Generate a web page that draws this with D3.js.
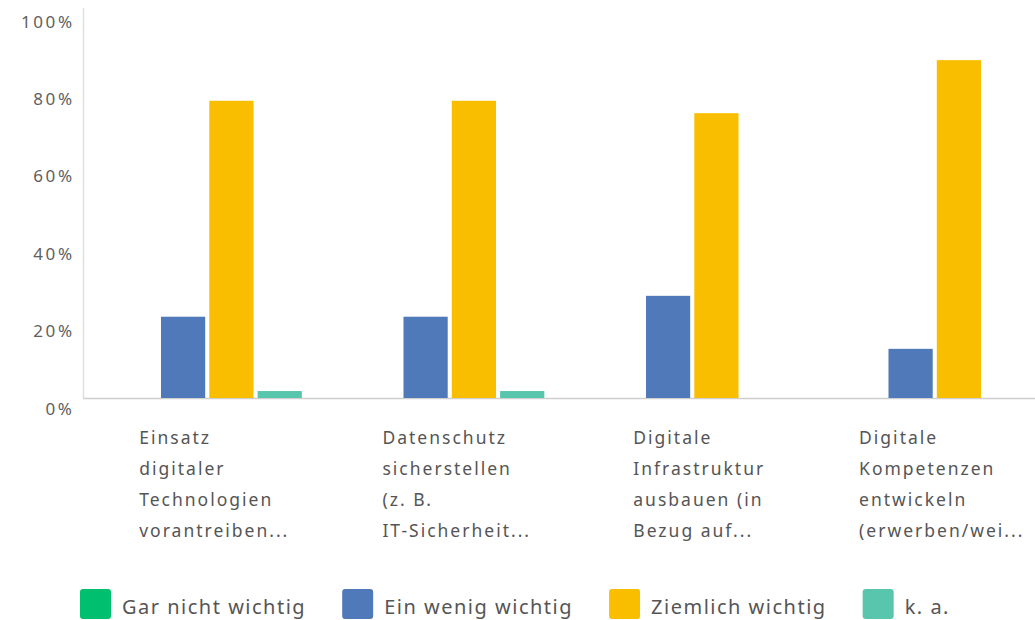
<!DOCTYPE html>
<html>
<head>
<meta charset="utf-8">
<script src="https://cdn.jsdelivr.net/npm/d3@7"></script>
<style>
  html, body { margin: 0; padding: 0; background: #fff; }
  svg { display: block; }
  text { font-family: "Noto Sans", "Open Sans", sans-serif; }
</style>
</head>
<body>
<svg id="chart" width="1035" height="620"></svg>
<script>
// ---- data ----
const categories = [
  ["Einsatz", "digitaler", "Technologien", "vorantreiben..."],
  ["Datenschutz", "sicherstellen", "(z. B.", "IT-Sicherheit..."],
  ["Digitale", "Infrastruktur", "ausbauen (in", "Bezug auf..."],
  ["Digitale", "Kompetenzen", "entwickeln", "(erwerben/wei..."]
];
const seriesNames = ["Gar nicht wichtig", "Ein wenig wichtig", "Ziemlich wichtig", "k. a."];
const garNichtWichtig = [0, 0, 0, 0];
const einWenigWichtig = [21.0, 21.0, 26.4, 12.7];
const ziemlichWichtig = [76.8, 76.8, 73.6, 87.3];
const keineAngabe = [1.8, 1.8, 0, 0];
const yTicks = [0, 20, 40, 60, 80, 100];
const seriesColors = ["#00bf6f", "#4f79b8", "#f9be00", "#58c5ad"];

const seriesValues = [garNichtWichtig, einWenigWichtig, ziemlichWichtig, keineAngabe];

// ---- layout ----
const svg = d3.select("#chart");
const baseY = 398, topY = 11;
const y = d3.scaleLinear().domain([0, 100]).range([baseY, topY]);
const x0 = d3.scaleBand().domain(d3.range(categories.length))
  .range([86, 1056]).paddingInner(0.22).paddingOuter(0.11);
const x1 = d3.scaleBand().domain(d3.range(seriesNames.length))
  .range([0, x0.bandwidth()]).paddingInner(0.085);

// y axis labels
const yAxis = d3.axisLeft(y).tickValues(yTicks).tickSize(0).tickPadding(0)
  .tickFormat(d => d + "%");
const yg = svg.append("g").attr("transform", "translate(72,0)").call(yAxis);
yg.select(".domain").remove();
yg.selectAll("text")
  .attr("font-family", "'Noto Sans', sans-serif")
  .attr("font-size", 17)
  .attr("fill", "#606060")
  .attr("letter-spacing", 2.6)
  .attr("dx", 2.6)
  .attr("dy", "0.95em");

// axis lines
svg.append("line").attr("x1", 83.5).attr("x2", 83.5).attr("y1", 8).attr("y2", baseY)
  .attr("stroke", "#e0e0e0").attr("stroke-width", 1.5);
svg.append("line").attr("x1", 83).attr("x2", 1035).attr("y1", baseY + 0.5).attr("y2", baseY + 0.5)
  .attr("stroke", "#cfcfcf").attr("stroke-width", 1.5);

// bars
const groups = svg.append("g").selectAll("g").data(categories).join("g")
  .attr("transform", (d, i) => `translate(${x0(i)},0)`);
groups.selectAll("rect")
  .data((d, i) => seriesValues.map((vals, s) => ({ s, v: vals[i] })))
  .join("rect")
  .attr("x", d => x1(d.s))
  .attr("width", x1.bandwidth())
  .attr("y", d => y(d.v))
  .attr("height", d => baseY - y(d.v))
  .attr("fill", d => seriesColors[d.s]);

// category labels (left-aligned block, centered under group)
categories.forEach((lines, i) => {
  const g = svg.append("g");
  const t = g.append("text")
    .attr("font-size", 17.5).attr("fill", "#555").attr("letter-spacing", 2);
  lines.forEach((ln, k) => {
    t.append("tspan").attr("x", 0).attr("y", 444 + k * 31).text(ln);
  });
  let w = 0;
  t.selectAll("tspan").each(function () { w = Math.max(w, this.getComputedTextLength()); });
  const cx = x0(i) + x0.bandwidth() / 2 + 7;
  g.attr("transform", `translate(${cx - w / 2},0)`);
});

// legend
let lx = 80;
seriesNames.forEach((name, s) => {
  svg.append("rect").attr("x", lx).attr("y", 589).attr("width", 31).attr("height", 30)
    .attr("rx", 3).attr("fill", seriesColors[s]);
  const t = svg.append("text").attr("x", lx + 42).attr("y", 614)
    .attr("font-size", 20).attr("fill", "#555").attr("letter-spacing", 1.5).text(name);
  lx += 42 + t.node().getComputedTextLength() + 36;
});
</script>
</body>
</html>
